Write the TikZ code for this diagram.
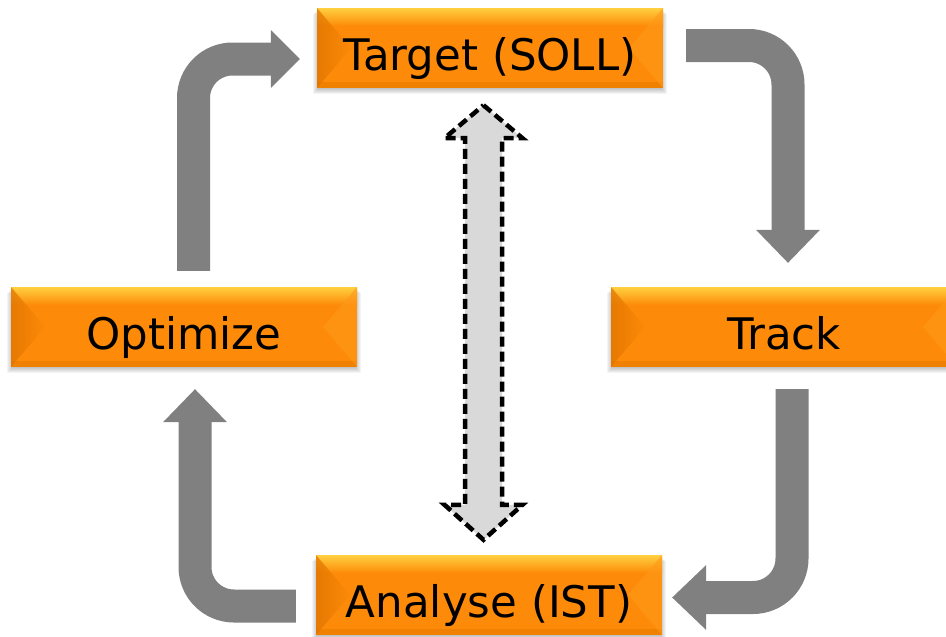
\documentclass[tikz,border=0pt]{standalone}
\usepackage{fontspec}
\setmainfont{DejaVu Sans}
\usetikzlibrary{calc,backgrounds}
\definecolor{boxor}{RGB}{253,138,8}
\definecolor{boxtop}{RGB}{255,208,64}
\definecolor{boxleft}{RGB}{222,116,0}
\definecolor{boxright}{RGB}{255,152,24}
\definecolor{boxbot}{RGB}{240,128,0}
\definecolor{arrgray}{RGB}{128,128,128}
\definecolor{dblfill}{RGB}{217,217,217}
\begin{document}
\begin{tikzpicture}[x=1pt,y=-1pt,
  stagebox/.style={minimum width=346pt, minimum height=80pt, inner sep=0pt,
    fill=boxor, text=black, font=\fontsize{43.5}{52}\selectfont,
    text height=44pt, text depth=0pt,
    path picture={
      \path (path picture bounding box.north west) coordinate (bnw)
            (path picture bounding box.north east) coordinate (bne)
            (path picture bounding box.south west) coordinate (bsw)
            (path picture bounding box.south east) coordinate (bse)
            (path picture bounding box.west) coordinate (bw)
            (path picture bounding box.east) coordinate (be);
      \shade[top color=boxtop, bottom color=boxor] (bnw) rectangle ($(bne)+(0,18)$);
      \fill[boxbot] ($(bsw)+(0,-6)$) rectangle (bse);
      \shade[left color=boxleft, right color=boxor, opacity=0.75]
        (bnw) -- ($(bw)+(34,0)$) -- (bsw) -- cycle;
      \fill[boxright, opacity=0.6] (bne) -- ($(be)+(-34,0)$) -- (bse) -- cycle;
    }},
  flow/.style={draw=arrgray, line width=33pt, rounded corners=39pt},
  flowhead/.style={fill=arrgray},
  dblarrow/.style={fill=dblfill, draw=black, line width=4.5pt,
    dash pattern=on 10pt off 5pt, line join=miter},
]
\clip (0,0) rectangle (946,637);
\useasboundingbox (0,0) rectangle (946,637);

\node[stagebox] (T) at (490,48) {Target (SOLL)};
\node[stagebox] (O) at (184,327) {Optimize};
\node[stagebox] (K) at (784,327) {Track};
\node[stagebox] (A) at (489,595) {Analyse (IST)};

\begin{scope}[on background layer]
  \foreach \n in {T,O,K,A}{
    \foreach \i in {0,1,2,3,4,5}{
      \fill[black,opacity=0.045]
        ($(\n.north west)+(-\i+1,\i+1)$) rectangle ($(\n.south east)+(\i-1,\i+1)$);
    }
  }
\end{scope}

% Target -> Track
\coordinate (s1) at ($(T.east)+(23,-2.5)$);
\coordinate (h1) at ($(K.north)+(4,-57)$);
\draw[flow] (s1) -| (h1);
\fill[flowhead] ($(h1)+(-32,0)$) -- ($(h1)+(32,0)$) -- ($(h1)+(0,33)$) -- cycle;

% Track -> Analyse
\coordinate (s2) at ($(K.south)+(8,22)$);
\coordinate (h2) at ($(A.east)+(44,2.5)$);
\draw[flow] (s2) |- (h2);
\fill[flowhead] ($(h2)+(0,-32.5)$) -- ($(h2)+(0,32.5)$) -- ($(h2)+(-34,0)$) -- cycle;

% Analyse -> Optimize
\coordinate (s3) at ($(A.west)+(-20,11)$);
\coordinate (h3) at ($(O.south)+(11,55)$);
\draw[flow] (s3) -| (h3);
\fill[flowhead] ($(h3)+(-32,0)$) -- ($(h3)+(32,0)$) -- ($(h3)+(0,-33)$) -- cycle;

% Optimize -> Target
\coordinate (s4) at ($(O.north)+(9.5,-16)$);
\coordinate (h4) at ($(T.west)+(-46,11)$);
\draw[flow] (s4) |- (h4);
\fill[flowhead] ($(h4)+(0,-29)$) -- ($(h4)+(0,29)$) -- ($(h4)+(29,0)$) -- cycle;

% central double arrow
\coordinate (dt) at ($(T.south)+(-6.5,17)$);
\coordinate (db) at ($(A.north)+(-5.5,-15)$);
\draw[dblarrow] (dt) -- ++(39,33) -- ++(-20.5,0) -- ($(db)+(18.5,-35)$)
  -- ++(20.5,0) -- (db) -- ++(-39,-35) -- ++(20.5,0)
  -- ($(dt)+(-18.5,33)$) -- ++(-20.5,0) -- cycle;
\end{tikzpicture}
\end{document}
